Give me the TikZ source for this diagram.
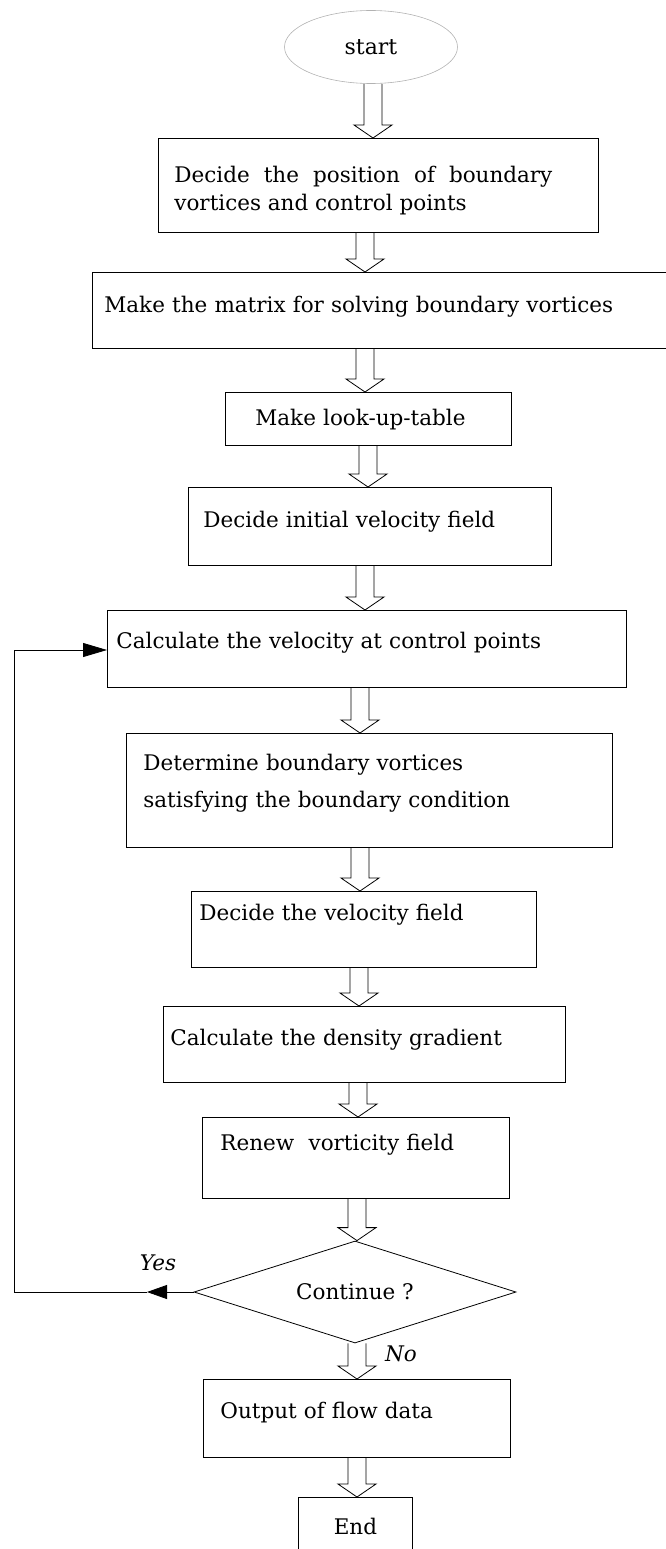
\documentclass[tikz,border=0pt]{standalone}
\usepackage{fontspec}
\setmainfont{DejaVu Serif}
\usetikzlibrary{arrows.meta,shapes.geometric,calc}

% hollow block arrow: x position, from node, to node
\newcommand{\hollowarrow}[3]{%
  \draw[line width=0.8pt] let \p1=(#2.south), \p2=(#3.north) in
    (#1pt-9pt,\y1) -- (#1pt-9pt,\y2+13pt) -- (#1pt-19pt,\y2+13pt) -- (#1pt,\y2)
    -- (#1pt+19pt,\y2+13pt) -- (#1pt+9pt,\y2+13pt) -- (#1pt+9pt,\y1);}

\begin{document}
\begin{tikzpicture}[
        x=1pt, y=-1pt,
        box/.style={draw, rectangle, line width=0.8pt, anchor=north west,
            inner ysep=0pt, align=left,
            font=\fontsize{21.5}{28}\selectfont},
        startnode/.style={draw=gray!60, ellipse, line width=0.6pt,
            minimum width=173pt, minimum height=73pt, inner sep=0pt,
            font=\fontsize{22}{26}\selectfont},
        decision/.style={draw, diamond, shape aspect=3.2, line width=0.8pt, inner sep=0pt,
            minimum width=322pt, minimum height=102pt,
            font=\fontsize{21.5}{26}\selectfont},
        lbl/.style={font=\fontsize{21.5}{26}\selectfont\itshape},
        loop/.style={line width=0.8pt},
    ]
    \useasboundingbox (0,0) rectangle (666,1549);

    \node[startnode] (start) at (371,47) {start};
    \node[box, inner xsep=16pt, text width=408pt, align=justify, text height=44pt, text depth=50pt]
        (b1) at (158,138) {Decide the position of boundary\hspace*{30pt}\linebreak vortices and control points};
    \node[box, inner xsep=12pt, text width=600pt, text height=40pt, text depth=36pt]
        (b2) at (92,272) {Make the matrix for solving boundary vortices};
    \node[box, inner xsep=30pt, text width=226pt, text height=33pt, text depth=20pt]
        (b3) at (225,392) {Make look-up-table};
    \node[box, inner xsep=15pt, text width=333pt, text height=40pt, text depth=38pt]
        (b4) at (188,487) {Decide initial velocity field};
    \node[box, inner xsep=9pt, text width=501pt, text height=38pt, text depth=39pt]
        (b5) at (107,610) {Calculate the velocity at control points};
    \node[box, inner xsep=17pt, text width=452pt, text height=37pt, text depth=77pt,
          font=\fontsize{21.5}{37}\selectfont]
        (b6) at (126,733) {Determine boundary vortices\\satisfying the boundary condition};
    \node[box, inner xsep=8pt, text width=329pt, text height=29pt, text depth=47pt]
        (b7) at (191,891) {Decide the velocity field};
    \node[box, inner xsep=7pt, text width=388pt, text height=39pt, text depth=37pt]
        (b8) at (163,1006) {Calculate the density gradient};
    \node[box, inner xsep=18pt, text width=271pt, text height=33pt, text depth=48pt]
        (b9) at (202,1117) {Renew~ vorticity field};
    \node[decision] (dec) at (355,1292) {Continue ?};
    \node[box, inner xsep=17pt, text width=273pt, text height=39pt, text depth=39pt]
        (b10) at (203,1379) {Output of flow data};
    \node[box, inner xsep=0pt, align=center, text width=114pt, text height=37pt, text depth=17pt]
        (b11) at (298,1497) {End};

    \node[lbl] (yes) at (158,1263) {Yes};
    \node[lbl] (no) at (401,1354) {No};

    % main flow
    \hollowarrow{373}{start}{b1}
    \hollowarrow{365}{b1}{b2}
    \hollowarrow{365}{b2}{b3}
    \hollowarrow{368}{b3}{b4}
    \hollowarrow{365}{b4}{b5}
    \hollowarrow{360}{b5}{b6}
    \hollowarrow{360}{b6}{b7}
    \hollowarrow{359}{b7}{b8}
    \hollowarrow{358}{b8}{b9}
    \hollowarrow{357}{b9}{dec}
    \hollowarrow{357}{dec}{b10}
    \hollowarrow{357}{b10}{b11}

    % loop back
    \coordinate (yestip) at (147,1292);
    \coordinate (loopb) at (14,1292);
    \coordinate (loopt) at (14,650);
    \draw[loop, -{Triangle[length=20pt,width=14pt]}] (dec.west) -- (yestip);
    \draw[loop] (yestip) -- (loopb) -- (loopt);
    \draw[loop, -{Triangle[length=24pt,width=14pt]}] (loopt) -- (loopt -| b5.west);
\end{tikzpicture}
\end{document}
